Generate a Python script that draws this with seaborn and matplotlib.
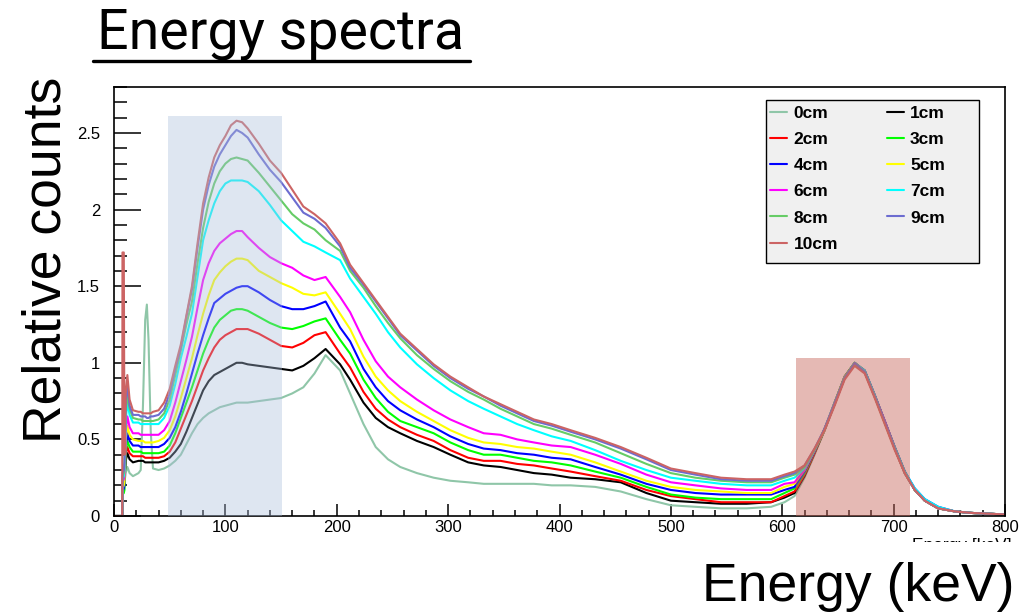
import matplotlib
matplotlib.use("Agg")
import matplotlib.pyplot as plt
from matplotlib.patches import Rectangle
from matplotlib.lines import Line2D
from matplotlib.ticker import MultipleLocator, FuncFormatter
import seaborn as sns

# Energy grid (keV) shared by all spectra
energy_kev = [0, 7.4, 7.6, 8.8, 9.4, 10.5, 12, 14, 17, 22,
              24, 26, 28, 29.5, 31, 33, 35, 40, 45, 50,
              55, 60, 65, 70, 75, 80, 85, 90, 95, 100,
              105, 110, 115, 120, 130, 140, 150, 160, 170, 180,
              190, 203, 212, 224, 235, 246, 257, 272, 287, 302,
              318, 332, 347, 362, 377, 393, 410, 432, 455, 478,
              500, 522, 545, 568, 590, 602, 611, 620, 629, 638,
              647, 656, 665, 674, 683, 692, 701, 710, 719, 728,
              740, 755, 770, 800]

# Relative counts, one spectrum per absorber thickness
counts_0cm = [0, 0, 0.18, 0.20, 0.22, 0.28, 0.32, 0.28, 0.26, 0.28,
              0.30, 0.72, 1.28, 1.38, 1.15, 0.55, 0.31, 0.30, 0.31, 0.33,
              0.36, 0.40, 0.47, 0.54, 0.60, 0.64, 0.67, 0.69, 0.71, 0.72,
              0.73, 0.74, 0.74, 0.74, 0.75, 0.76, 0.77, 0.80, 0.84, 0.93,
              1.05, 0.95, 0.80, 0.60, 0.45, 0.37, 0.32, 0.28, 0.25, 0.23,
              0.22, 0.21, 0.21, 0.21, 0.21, 0.20, 0.20, 0.19, 0.16, 0.11,
              0.07, 0.06, 0.05, 0.05, 0.06, 0.09, 0.13, 0.25, 0.40, 0.56,
              0.73, 0.90, 1.00, 0.94, 0.78, 0.61, 0.44, 0.28, 0.17, 0.10,
              0.05, 0.03, 0.02, 0.01]
counts_1cm = [0, 0, 0.20, 0.22, 0.25, 0.36, 0.41, 0.37, 0.35, 0.36,
              0.36, 0.36, 0.35, 0.35, 0.35, 0.35, 0.35, 0.35, 0.36, 0.38,
              0.42, 0.47, 0.55, 0.64, 0.73, 0.82, 0.88, 0.92, 0.94, 0.96,
              0.98, 1.00, 1.00, 0.99, 0.98, 0.97, 0.96, 0.95, 0.98, 1.03,
              1.09, 0.99, 0.89, 0.74, 0.64, 0.58, 0.54, 0.49, 0.45, 0.40,
              0.35, 0.33, 0.32, 0.30, 0.28, 0.27, 0.25, 0.24, 0.22, 0.15,
              0.10, 0.09, 0.08, 0.08, 0.09, 0.12, 0.15, 0.26, 0.41, 0.56,
              0.74, 0.91, 1.00, 0.95, 0.79, 0.62, 0.45, 0.29, 0.17, 0.10,
              0.05, 0.03, 0.02, 0.01]
counts_2cm = [0, 0, 0.18, 0.20, 0.22, 0.40, 0.45, 0.41, 0.39, 0.39,
              0.39, 0.39, 0.38, 0.38, 0.38, 0.38, 0.38, 0.38, 0.39, 0.42,
              0.48, 0.57, 0.66, 0.75, 0.85, 0.95, 1.03, 1.10, 1.15, 1.18,
              1.20, 1.22, 1.22, 1.22, 1.19, 1.15, 1.11, 1.10, 1.13, 1.18,
              1.20, 1.06, 0.97, 0.81, 0.70, 0.63, 0.58, 0.53, 0.49, 0.43,
              0.38, 0.36, 0.36, 0.34, 0.33, 0.31, 0.29, 0.26, 0.23, 0.17,
              0.13, 0.11, 0.09, 0.09, 0.09, 0.13, 0.16, 0.27, 0.41, 0.57,
              0.73, 0.90, 0.99, 0.94, 0.78, 0.61, 0.44, 0.28, 0.17, 0.10,
              0.05, 0.03, 0.02, 0.01]
counts_3cm = [0, 0, 0.14, 0.15, 0.17, 0.42, 0.49, 0.45, 0.42, 0.42,
              0.42, 0.41, 0.41, 0.41, 0.41, 0.41, 0.41, 0.41, 0.42, 0.46,
              0.54, 0.64, 0.74, 0.84, 0.95, 1.06, 1.15, 1.23, 1.28, 1.31,
              1.34, 1.35, 1.35, 1.34, 1.30, 1.26, 1.23, 1.22, 1.24, 1.27,
              1.29, 1.15, 1.06, 0.89, 0.77, 0.68, 0.62, 0.58, 0.54, 0.48,
              0.43, 0.40, 0.40, 0.38, 0.36, 0.35, 0.33, 0.29, 0.25, 0.19,
              0.14, 0.12, 0.11, 0.11, 0.11, 0.15, 0.18, 0.28, 0.42, 0.56,
              0.74, 0.91, 1.00, 0.94, 0.78, 0.61, 0.44, 0.28, 0.17, 0.10,
              0.05, 0.03, 0.02, 0.01]
counts_4cm = [0, 0, 0.16, 0.18, 0.20, 0.46, 0.54, 0.49, 0.46, 0.46,
              0.45, 0.45, 0.45, 0.45, 0.45, 0.45, 0.45, 0.45, 0.47, 0.51,
              0.58, 0.68, 0.80, 0.93, 1.06, 1.18, 1.29, 1.39, 1.42, 1.45,
              1.47, 1.49, 1.50, 1.50, 1.46, 1.41, 1.37, 1.35, 1.35, 1.37,
              1.40, 1.23, 1.14, 0.96, 0.84, 0.75, 0.69, 0.63, 0.58, 0.52,
              0.47, 0.44, 0.43, 0.41, 0.40, 0.38, 0.37, 0.32, 0.27, 0.21,
              0.17, 0.15, 0.14, 0.14, 0.14, 0.17, 0.19, 0.29, 0.42, 0.57,
              0.73, 0.90, 0.99, 0.95, 0.79, 0.62, 0.45, 0.29, 0.18, 0.11,
              0.06, 0.03, 0.02, 0.01]
counts_5cm = [0, 0, 0.18, 0.20, 0.22, 0.50, 0.59, 0.53, 0.50, 0.49,
              0.49, 0.49, 0.48, 0.48, 0.48, 0.48, 0.48, 0.49, 0.51, 0.56,
              0.65, 0.77, 0.90, 1.03, 1.18, 1.32, 1.44, 1.54, 1.59, 1.63,
              1.66, 1.68, 1.68, 1.67, 1.60, 1.56, 1.52, 1.49, 1.45, 1.44,
              1.46, 1.32, 1.22, 1.04, 0.91, 0.82, 0.75, 0.68, 0.62, 0.56,
              0.51, 0.48, 0.47, 0.45, 0.44, 0.42, 0.40, 0.35, 0.29, 0.23,
              0.19, 0.17, 0.16, 0.15, 0.15, 0.19, 0.21, 0.30, 0.43, 0.56,
              0.74, 0.90, 1.00, 0.94, 0.78, 0.61, 0.44, 0.28, 0.17, 0.10,
              0.05, 0.03, 0.02, 0.01]
counts_6cm = [0, 0, 0.22, 0.24, 0.27, 0.55, 0.65, 0.58, 0.54, 0.54,
              0.53, 0.53, 0.53, 0.53, 0.53, 0.53, 0.53, 0.53, 0.56, 0.62,
              0.74, 0.88, 1.02, 1.17, 1.36, 1.54, 1.65, 1.73, 1.78, 1.81,
              1.84, 1.86, 1.86, 1.82, 1.75, 1.69, 1.65, 1.62, 1.57, 1.54,
              1.56, 1.43, 1.33, 1.15, 1.01, 0.91, 0.84, 0.76, 0.69, 0.63,
              0.58, 0.54, 0.53, 0.50, 0.48, 0.46, 0.45, 0.40, 0.34, 0.27,
              0.22, 0.20, 0.18, 0.17, 0.17, 0.21, 0.22, 0.30, 0.43, 0.56,
              0.73, 0.91, 0.99, 0.94, 0.78, 0.62, 0.44, 0.28, 0.17, 0.10,
              0.05, 0.03, 0.02, 0.01]
counts_7cm = [0, 0, 0.24, 0.26, 0.30, 0.62, 0.74, 0.66, 0.61, 0.61,
              0.60, 0.60, 0.60, 0.60, 0.60, 0.60, 0.60, 0.60, 0.64, 0.72,
              0.86, 1.03, 1.17, 1.32, 1.56, 1.80, 1.93, 2.04, 2.12, 2.17,
              2.19, 2.19, 2.19, 2.18, 2.12, 2.03, 1.93, 1.86, 1.79, 1.76,
              1.72, 1.67, 1.55, 1.43, 1.32, 1.20, 1.10, 0.99, 0.90, 0.82,
              0.75, 0.70, 0.65, 0.60, 0.56, 0.52, 0.49, 0.43, 0.36, 0.30,
              0.25, 0.23, 0.21, 0.20, 0.20, 0.23, 0.25, 0.31, 0.43, 0.57,
              0.74, 0.90, 1.00, 0.95, 0.79, 0.61, 0.45, 0.29, 0.18, 0.11,
              0.06, 0.03, 0.02, 0.01]
counts_8cm = [0, 0, 0.26, 0.28, 0.32, 0.68, 0.79, 0.70, 0.64, 0.63,
              0.63, 0.62, 0.62, 0.62, 0.62, 0.62, 0.62, 0.63, 0.67, 0.76,
              0.92, 1.08, 1.25, 1.40, 1.65, 1.88, 2.05, 2.17, 2.25, 2.30,
              2.33, 2.34, 2.33, 2.32, 2.24, 2.15, 2.06, 1.97, 1.91, 1.87,
              1.80, 1.73, 1.60, 1.49, 1.37, 1.26, 1.16, 1.05, 0.96, 0.88,
              0.81, 0.76, 0.70, 0.65, 0.60, 0.57, 0.53, 0.48, 0.41, 0.34,
              0.28, 0.25, 0.23, 0.22, 0.22, 0.25, 0.27, 0.32, 0.43, 0.56,
              0.73, 0.91, 0.99, 0.94, 0.78, 0.61, 0.44, 0.28, 0.17, 0.10,
              0.05, 0.03, 0.02, 0.01]
counts_9cm = [0, 0, 0.28, 0.30, 0.35, 0.74, 0.86, 0.72, 0.66, 0.66,
              0.65, 0.65, 0.65, 0.64, 0.64, 0.65, 0.65, 0.66, 0.70, 0.80,
              0.96, 1.10, 1.30, 1.48, 1.75, 2.00, 2.16, 2.28, 2.36, 2.42,
              2.48, 2.52, 2.50, 2.47, 2.36, 2.26, 2.18, 2.08, 1.98, 1.94,
              1.88, 1.76, 1.62, 1.51, 1.40, 1.29, 1.18, 1.08, 0.98, 0.90,
              0.83, 0.78, 0.72, 0.67, 0.62, 0.59, 0.55, 0.50, 0.44, 0.37,
              0.30, 0.27, 0.24, 0.23, 0.23, 0.26, 0.28, 0.33, 0.44, 0.57,
              0.74, 0.90, 1.00, 0.94, 0.78, 0.62, 0.44, 0.28, 0.17, 0.10,
              0.05, 0.03, 0.02, 0.01]
counts_10cm = [0, 0, 1.72, 1.72, 0.40, 0.80, 0.92, 0.76, 0.69, 0.68,
               0.68, 0.67, 0.67, 0.67, 0.67, 0.67, 0.68, 0.69, 0.74, 0.83,
               0.98, 1.12, 1.31, 1.50, 1.78, 2.04, 2.21, 2.34, 2.42, 2.48,
               2.55, 2.58, 2.57, 2.53, 2.43, 2.32, 2.24, 2.13, 2.02, 1.97,
               1.91, 1.78, 1.64, 1.52, 1.41, 1.30, 1.19, 1.09, 0.99, 0.91,
               0.84, 0.78, 0.73, 0.68, 0.63, 0.60, 0.56, 0.51, 0.45, 0.38,
               0.31, 0.28, 0.25, 0.24, 0.24, 0.27, 0.29, 0.33, 0.44, 0.56,
               0.72, 0.89, 0.98, 0.93, 0.77, 0.60, 0.43, 0.28, 0.17, 0.10,
               0.05, 0.03, 0.02, 0.01]

depth_labels = ["0cm", "1cm", "2cm", "3cm", "4cm", "5cm",
                "6cm", "7cm", "8cm", "9cm", "10cm"]
line_colors = ["#8fc6a8", "#000000", "#ff0000", "#00ff00", "#0000ff", "#ffff00",
               "#ff00ff", "#00ffff", "#66cc66", "#6c6cd0", "#cc6464"]

# Highlighted energy windows (keV, relative counts)
low_window = (48.5, 151.0, 2.61)
peak_window = (612.0, 715.0, 1.03)

sns.set_style("ticks")
plt.rcParams["font.family"] = ["Liberation Sans", "DejaVu Sans"]
plt.rcParams["text.color"] = "black"
plt.rcParams["xtick.color"] = "black"
plt.rcParams["ytick.color"] = "black"
plt.rcParams["xtick.labelcolor"] = "black"
plt.rcParams["ytick.labelcolor"] = "black"

W, H = 1023, 613
fig = plt.figure(figsize=(W / 100, H / 100), dpi=100)
L, R, T, B = 114, 1005, 87, 516
ax = fig.add_axes([L / W, 1 - B / H, (R - L) / W, (B - T) / H])

series = [counts_0cm, counts_1cm, counts_2cm, counts_3cm, counts_4cm, counts_5cm,
          counts_6cm, counts_7cm, counts_8cm, counts_9cm, counts_10cm]
for label, color, vals in zip(depth_labels, line_colors, series):
    sns.lineplot(x=energy_kev, y=vals, color=color, linewidth=1.5,
                 label=label, ax=ax, zorder=2)

handles, labels = ax.get_legend_handles_labels()
if ax.get_legend() is not None:
    ax.get_legend().remove()

# shaded windows drawn over the spectra
x0, x1, top = low_window
ax.add_patch(Rectangle((x0, 0), x1 - x0, top, facecolor=(170/255, 190/255, 220/255),
                       alpha=0.38, edgecolor="none", zorder=3))
x0, x1, top = peak_window
ax.add_patch(Rectangle((x0, 0), x1 - x0, top, facecolor=(198/255, 100/255, 89/255),
                       alpha=0.45, edgecolor="none", zorder=3))

ax.set_xlim(0, 800)
ax.set_ylim(0, 2.8)
ax.set_xlabel("")
ax.set_ylabel("")
ax.xaxis.set_major_locator(MultipleLocator(100))
ax.xaxis.set_minor_locator(MultipleLocator(20))
ax.yaxis.set_major_locator(MultipleLocator(0.5))
ax.yaxis.set_minor_locator(MultipleLocator(0.1))
fmt = FuncFormatter(lambda v, p: f"{v:g}")
ax.xaxis.set_major_formatter(fmt)
ax.yaxis.set_major_formatter(fmt)
ax.tick_params(which="both", direction="in", top=False, right=False,
               width=1.1, color="black", labelcolor="black")
ax.tick_params(axis="y", which="major", length=19.5, pad=10, labelsize=12)
ax.tick_params(axis="y", which="minor", length=9.5)
ax.tick_params(axis="x", which="major", length=8.5, pad=3, labelsize=12)
ax.tick_params(axis="x", which="minor", length=4.3)
for s in ax.spines.values():
    s.set_visible(True)
    s.set_color("black")
    s.set_linewidth(1.2)

# legend box
lx0, lx1, ly1, ly0 = 766, 979, 100, 263
ax.add_patch(Rectangle(((lx0 - L) / (R - L), (B - ly0) / (B - T)),
                       (lx1 - lx0) / (R - L), (ly0 - ly1) / (B - T),
                       transform=ax.transAxes, facecolor="#f0f0f0",
                       edgecolor="black", linewidth=1.0, zorder=4))
order = [0, 2, 4, 6, 8, 10, 1, 3, 5, 7, 9]
leg = ax.legend([handles[i] for i in order], [labels[i] for i in order],
                ncol=2, loc="upper left",
                bbox_to_anchor=((770 - L) / (R - L), (B - 106) / (B - T)),
                frameon=False, borderpad=0, borderaxespad=0,
                prop={"weight": "bold", "size": 12.5},
                handlelength=1.0, handletextpad=0.35, columnspacing=2.8,
                labelspacing=0.63)
leg.set_zorder(5)
for t in leg.get_texts():
    t.set_color("black")
for h in leg.legend_handles:
    h.set_linewidth(1.5)

# partially hidden axis title
fig.text(1012 / W, 1 - 550 / H, "Energy [keV]", ha="right", va="baseline",
         fontsize=12.5, color="black")
fig.add_artist(Rectangle((880 / W, 0), (W - 880) / W, 1 - 542 / H,
                         transform=fig.transFigure, facecolor="white",
                         edgecolor="none", zorder=10))

fig.text(97 / W, 1 - 49 / H, "Energy spectra", ha="left", va="baseline",
         fontsize=40, family=["Roboto", "DejaVu Sans"], fontweight="normal",
         color="black")
fig.add_artist(Line2D([93 / W, 470 / W], [1 - 61 / H, 1 - 61 / H],
                      transform=fig.transFigure, color="black", linewidth=2.4))

fig.text(61 / W, 1 - 260 / H, "Relative counts", rotation=90,
         rotation_mode="anchor", ha="center", va="baseline", fontsize=38.5,
         color="black")
fig.text(1015 / W, 1 - 601 / H, "Energy (keV)", ha="right", va="baseline",
         fontsize=38.5, zorder=11, color="black")

fig.savefig("out.png", dpi=100)
